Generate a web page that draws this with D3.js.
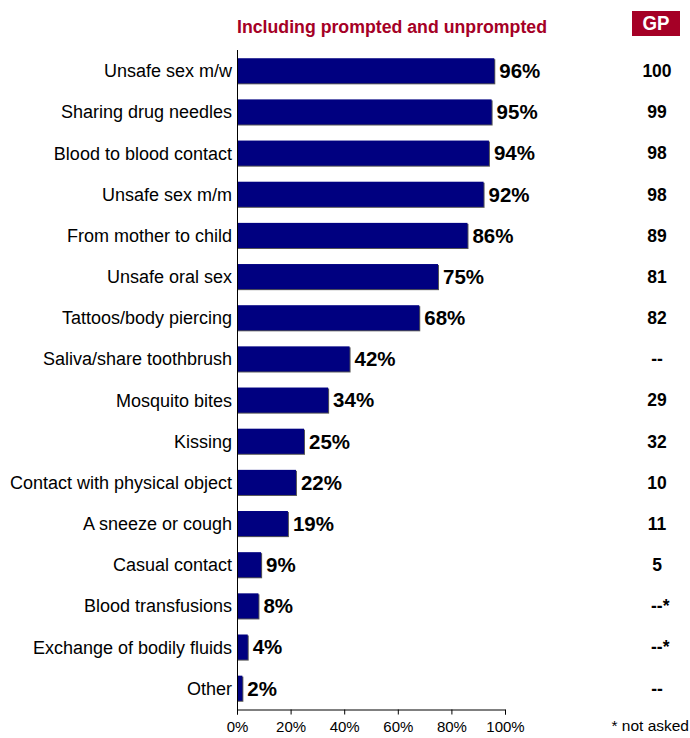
<!DOCTYPE html>
<html><head><meta charset="utf-8">
<script src="https://cdn.jsdelivr.net/npm/d3@7"></script>
<style>body{margin:0;background:#fff}svg{display:block}text{font-family:"Liberation Sans",Arial,sans-serif}</style>
</head><body><svg id="c" width="690" height="738"></svg>
<script>
const categories=["Unsafe sex m/w","Sharing drug needles","Blood to blood contact","Unsafe sex m/m","From mother to child","Unsafe oral sex","Tattoos/body piercing","Saliva/share toothbrush","Mosquito bites","Kissing","Contact with physical object","A sneeze or cough","Casual contact","Blood transfusions","Exchange of bodily fluids","Other"];
const values=[96,95,94,92,86,75,68,42,34,25,22,19,9,8,4,2];
const gpValues=["100","99","98","98","89","81","82","--","29","32","10","11","5","--*","--*","--"];
const tickValues=[0,20,40,60,80,100];
const title="Including prompted and unprompted";
const gpLabel="GP";
const footnote="* not asked";

const svg=d3.select("#c");
const x=d3.scaleLinear().domain([0,100]).range([237,505]);
const y=d3.scaleBand().domain(categories).range([50,709]).paddingInner(0.39).paddingOuter(0.2);

svg.append("g").selectAll("rect").data(values).join("rect")
 .attr("x",x(0)+1).attr("y",(d,i)=>y(categories[i])+1)
 .attr("width",d=>x(d)-x(0)).attr("height",y.bandwidth())
 .attr("fill","#555");
svg.append("g").selectAll("rect").data(values).join("rect")
 .attr("x",x(0)).attr("y",(d,i)=>y(categories[i]))
 .attr("width",d=>x(d)-x(0)).attr("height",y.bandwidth())
 .attr("fill","#000080");

svg.append("g").selectAll("text").data(values).join("text")
 .attr("x",d=>x(d)+5).attr("y",(d,i)=>y(categories[i])+y.bandwidth()/2)
 .attr("dy","0.36em").attr("font-size",20.5).attr("font-weight","bold").attr("fill","#000")
 .text(d=>d+"%");

svg.append("g").selectAll("text").data(categories).join("text")
 .attr("x",232).attr("y",d=>y(d)+y.bandwidth()/2).attr("dy","0.36em")
 .attr("text-anchor","end").attr("font-size",18).attr("fill","#000").text(d=>d);

svg.append("g").selectAll("text").data(gpValues).join("text")
 .attr("x",d=>d.endsWith("*")?651:657).attr("y",(d,i)=>y(categories[i])+y.bandwidth()/2).attr("dy","0.36em")
 .attr("text-anchor",d=>d.endsWith("*")?"start":"middle").attr("font-size",17.5).attr("font-weight","bold").attr("fill","#000").text(d=>d);

const xAxis=d3.axisBottom(x).tickValues(tickValues).tickSize(5).tickFormat(d=>d+"%");
const gx=svg.append("g").attr("transform","translate(0,709.5)").call(xAxis);
gx.select(".domain").attr("stroke","#000");
gx.selectAll("text").attr("font-size",15).attr("fill","#000").attr("dy","0.95em").style("font-family","'Liberation Sans',Arial,sans-serif");
svg.append("line").attr("x1",237.5).attr("x2",237.5).attr("y1",50).attr("y2",710).attr("stroke","#000");

svg.append("text").attr("x",237).attr("y",33).attr("font-size",18).attr("font-weight","bold")
 .attr("fill","#A50026").text(title).attr("textLength",310).attr("lengthAdjust","spacingAndGlyphs");
svg.append("rect").attr("x",632).attr("y",11).attr("width",48).attr("height",25).attr("fill","#A50026");
svg.append("text").attr("x",656).attr("y",30).attr("text-anchor","middle").attr("font-size",19.5).attr("font-weight","bold").attr("fill","#fff")
 .text(gpLabel).attr("textLength",27).attr("lengthAdjust","spacingAndGlyphs");

svg.append("text").attr("x",689).attr("y",731).attr("text-anchor","end").attr("font-size",15.5).attr("fill","#000").text(footnote);
</script></body></html>
